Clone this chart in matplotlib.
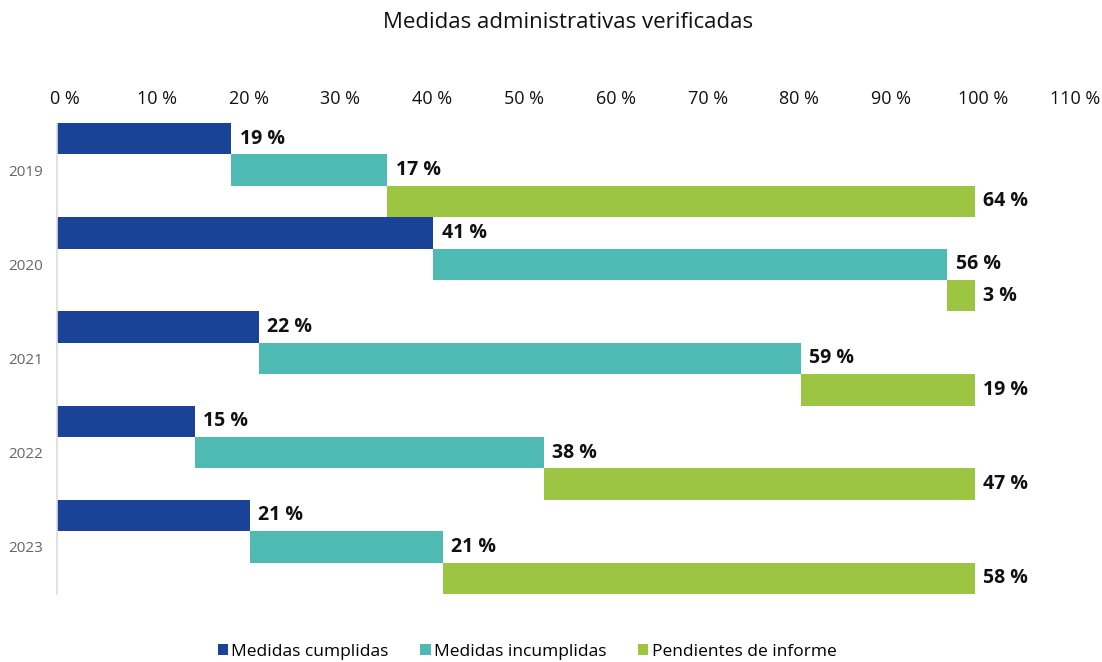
import matplotlib
matplotlib.use("Agg")
import matplotlib.pyplot as plt
import matplotlib.transforms as mtransforms
from matplotlib.patches import Patch

plt.rcParams['font.family'] = ['Open Sans', 'DejaVu Sans']

years = ["2019", "2020", "2021", "2022", "2023"]
series_names = ["Medidas cumplidas", "Medidas incumplidas", "Pendientes de informe"]
cumplidas = [19, 41, 22, 15, 21]
incumplidas = [17, 56, 59, 38, 21]
pendientes = [64, 3, 19, 47, 58]
colors = ["#1a4398", "#4fbab4", "#9dc544"]
x_ticks = list(range(0, 111, 10))

fig = plt.figure(figsize=(11.02, 6.62), dpi=100)
W, H = 1102, 662
ax = fig.add_axes([57 / W, 1 - 594 / H, (110 * 9.18) / W, (594 - 123) / H])

series = [cumplidas, incumplidas, pendientes]
n_groups = len(years)
for g in range(n_groups):
    start = 0
    for j, vals in enumerate(series):
        v = vals[g]
        y = g * 3 + j
        ax.barh(y, v, left=start, height=1.0, color=colors[j], edgecolor="none")
        ax.annotate(f"{v} %", xy=(start + v, y), xytext=(6, 0),
                    textcoords="offset points", ha="left", va="center",
                    fontsize=14, fontweight="bold", color="#111111")
        start += v

ax.set_ylim(n_groups * 3 - 0.5, -0.5)
ax.set_xlim(0, 110)
ax.set_yticks([g * 3 + 1 for g in range(n_groups)])
ax.set_yticklabels(years, fontsize=11, color="#666666")
ax.tick_params(axis="y", length=0, pad=10)

ax.xaxis.tick_top()
ax.set_xticks(x_ticks)
ax.set_xticklabels([f"{t} %" for t in x_ticks], fontsize=13, color="#111111")
ax.tick_params(axis="x", length=0, pad=11)
shift = mtransforms.ScaledTranslation(8 / 100, 0, fig.dpi_scale_trans)
for lbl in ax.get_xticklabels():
    lbl.set_transform(lbl.get_transform() + shift)

for s in ["top", "right", "bottom"]:
    ax.spines[s].set_visible(False)
ax.spines["left"].set_color("#dddddd")
ax.spines["left"].set_linewidth(1.2)

fig.text(568 / W, 1 - 22 / H, "Medidas administrativas verificadas",
         ha="center", va="center", fontsize=16, fontweight="normal", color="#111111")

handles = [Patch(facecolor=c, edgecolor="none") for c in colors]
fig.legend(handles, series_names, loc="center", bbox_to_anchor=(527 / W, 1 - 652 / H),
           ncol=3, frameon=False, fontsize=12.5, handlelength=0.6, handleheight=0.6,
           handletextpad=0.2, columnspacing=1.8)

fig.savefig("out.png", dpi=100)
